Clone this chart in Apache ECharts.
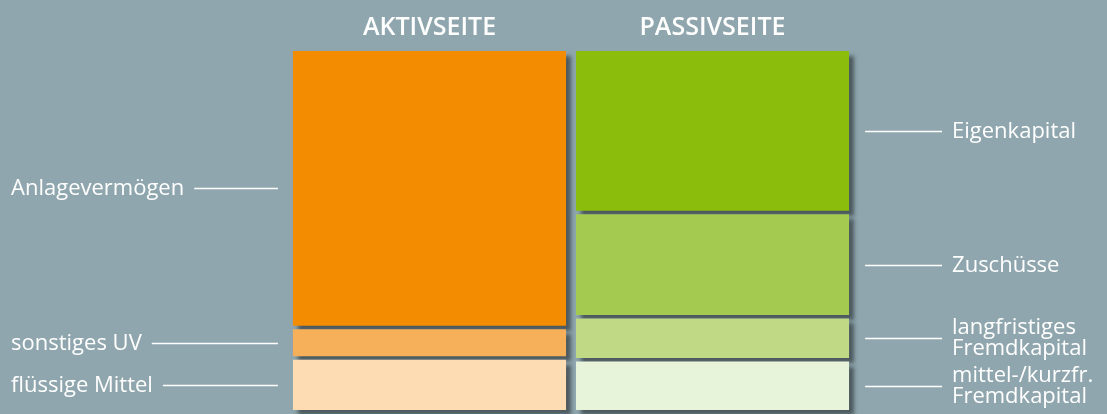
<!DOCTYPE html>
<html>
<head>
<meta charset="utf-8">
<script src="https://cdn.jsdelivr.net/npm/echarts@6/dist/echarts.min.js"></script>
<style>
  html, body { margin: 0; padding: 0; background: #8fa6ae; }
  #chart { width: 1107px; height: 414px; }
</style>
</head>
<body>
<div id="chart"></div>
<script>
// Bilanz: Aktivseite / Passivseite, Anteile in Prozent (von oben nach unten)
const categories = ['AKTIVSEITE', 'PASSIVSEITE'];
const aktivLabels = ['Anlagevermögen', 'sonstiges UV', 'flüssige Mittel'];
const aktivValues = [77.5, 8.5, 14];
const passivLabels = ['Eigenkapital', 'Zuschüsse', 'langfristiges\nFremdkapital', 'mittel-/kurzfr.\nFremdkapital'];
const passivValues = [45.5, 29, 12, 13.5];

const aktivColors = ['#f38c00', '#f7b05a', '#fddcb3'];
const passivColors = ['#8bbd0c', '#a4ca4f', '#bfd985', '#e8f4d9'];

const FONT = '22px "Open Sans"';
const GAP = 3.5; // Luecke zwischen den Bloecken

const measure = (() => {
  const ctx = document.createElement('canvas').getContext('2d');
  ctx.font = FONT;
  return (t) => ctx.measureText(t).width;
})();

// [kategorie, start, ende, index]
function toSegments(catIdx, values) {
  let acc = 0;
  return values.map((v, i) => {
    const seg = [catIdx, acc, acc + v, i];
    acc += v;
    return seg;
  });
}

function makeRender(labels, colors, side) {
  return function (params, api) {
    const cat = api.value(0), s = api.value(1), e = api.value(2), idx = api.value(3);
    const top = api.coord([cat, s]);
    const bot = api.coord([cat, e]);
    const w = api.size([1, 0])[0] * 0.965;
    const x0 = top[0] - w / 2;
    const isLast = idx === labels.length - 1;
    const h = bot[1] - top[1] - (isLast ? 0 : GAP);
    const midY = Math.round(top[1] + h / 2) + 0.5;
    const label = labels[idx];
    const children = [{
      type: 'rect',
      shape: { x: x0, y: top[1], width: w, height: h },
      style: {
        fill: colors[idx],
        shadowBlur: 4,
        shadowOffsetX: 5,
        shadowOffsetY: 5,
        shadowColor: 'rgba(72,84,90,0.95)'
      }
    }];
    if (side === 'left') {
      const tx = 11;
      const tw = measure(label);
      children.push({
        type: 'line',
        shape: { x1: tx + tw + 10, y1: midY, x2: x0 - 15, y2: midY },
        style: { stroke: '#fff', lineWidth: 1.5 }
      }, {
        type: 'text',
        style: { text: label, x: tx, y: midY, fill: '#fff', font: FONT, align: 'left', verticalAlign: 'middle' }
      });
    } else {
      const x1 = x0 + w;
      children.push({
        type: 'line',
        shape: { x1: x1 + 16, y1: midY, x2: x1 + 93, y2: midY },
        style: { stroke: '#fff', lineWidth: 1.5 }
      }, {
        type: 'text',
        style: { text: label, x: x1 + 103, y: midY, fill: '#fff', font: FONT, lineHeight: 21, align: 'left', verticalAlign: 'middle' }
      });
    }
    return { type: 'group', children };
  };
}

const chart = echarts.init(document.getElementById('chart'));
chart.setOption({
  backgroundColor: '#8fa6ae',
  animation: false,
  grid: { left: 288, right: 253, top: 51, bottom: 4 },
  xAxis: {
    type: 'category',
    data: categories,
    position: 'top',
    axisLine: { show: false },
    axisTick: { show: false },
    splitLine: { show: false },
    axisLabel: { color: '#fff', fontFamily: 'Open Sans', fontWeight: 600, fontSize: 25, margin: 11 }
  },
  yAxis: { type: 'value', min: 0, max: 100, inverse: true, show: false },
  series: [
    {
      type: 'custom',
      clip: false,
      renderItem: makeRender(aktivLabels, aktivColors, 'left'),
      data: toSegments(0, aktivValues)
    },
    {
      type: 'custom',
      clip: false,
      renderItem: makeRender(passivLabels, passivColors, 'right'),
      data: toSegments(1, passivValues)
    }
  ]
});
</script>
</body>
</html>
